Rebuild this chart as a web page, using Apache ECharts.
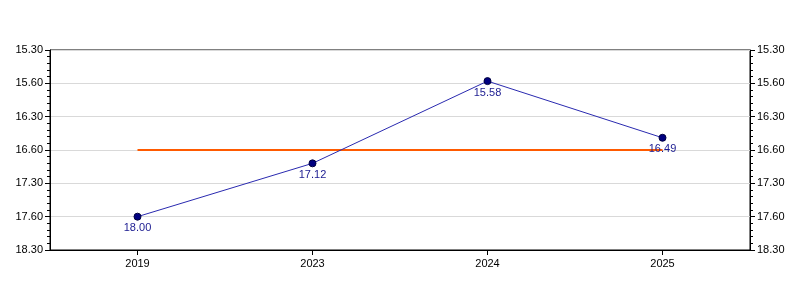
<!DOCTYPE html>
<html>
<head>
<meta charset="utf-8">
<script src="https://cdn.jsdelivr.net/npm/echarts@6/dist/echarts.min.js"></script>
<style>html,body{margin:0;padding:0;background:#fff}#c{width:800px;height:300px}</style>
</head>
<body>
<div id="c"></div>
<script>
// Categories (years)
var categories = ['2019', '2023', '2024', '2025'];
// Times as shown on labels (minutes.seconds)
var timeLabels = ['18.00', '17.12', '15.58', '16.49'];
// Average reference line (minutes, decimal)
var avgLine = [17.0, 17.0, 17.0, 17.0];
// Y-axis tick labels as printed on the chart (top to bottom)
var yTickLabels = ['15.30', '15.60', '16.30', '16.60', '17.30', '17.60', '18.30'];
var yMin = 15.5, yMax = 18.5, yStep = 0.5;

function mmssToMinutes(s) {
  var p = s.split('.');
  return parseInt(p[0], 10) + parseInt(p[1], 10) / 60;
}
var timeValues = timeLabels.map(mmssToMinutes);

function tickFmt(v) {
  var i = Math.round((v - yMin) / yStep);
  return yTickLabels[i] !== undefined ? yTickLabels[i] : '';
}

var font = 'Liberation Sans, Arial, sans-serif';
var narrow = '"Liberation Sans Narrow", "Arial Narrow", sans-serif';
function yAxis(pos) {
  return {
    type: 'value', position: pos, inverse: true,
    min: yMin, max: yMax, interval: yStep,
    axisLine: { show: true, lineStyle: { color: '#000', width: 1 } },
    axisTick: { show: true, length: 5, lineStyle: { color: '#000' } },
    minorTick: { show: true, splitNumber: 5, length: 3, lineStyle: { color: '#000' } },
    axisLabel: { formatter: tickFmt, color: '#000', fontSize: 11, fontFamily: font, margin: 7 },
    splitLine: { show: pos === 'left', lineStyle: { color: '#d9d9d9', width: 1 } }
  };
}

var chart = echarts.init(document.getElementById('c'), null, { renderer: 'canvas' });
chart.setOption({
  animation: false,
  backgroundColor: '#fff',
  grid: { left: 50, right: 50, top: 50, bottom: 50, show: true, borderColor: '#000', borderWidth: 1, backgroundColor: 'transparent' },
  xAxis: {
    type: 'category', data: categories, boundaryGap: true,
    axisLine: { show: true, lineStyle: { color: '#000' } },
    axisTick: { show: true, alignWithLabel: true, length: 5, lineStyle: { color: '#000' } },
    axisLabel: { color: '#000', fontSize: 11, fontFamily: font, margin: 8 },
    splitLine: { show: false }
  },
  yAxis: [yAxis('left'), yAxis('right')],
  series: [
    {
      type: 'line', data: avgLine, yAxisIndex: 0,
      showSymbol: false, symbol: 'none',
      lineStyle: { color: '#ff5a00', width: 2 },
      z: 2
    },
    {
      type: 'line', data: timeValues, yAxisIndex: 0,
      symbol: 'circle', symbolSize: 7,
      itemStyle: { color: '#000080', borderColor: '#000040', borderWidth: 1 },
      lineStyle: { color: '#2a2ab0', width: 1 },
      label: {
        show: true, position: 'bottom', distance: 2,
        color: '#1a1a90', fontSize: 11, fontFamily: narrow,
        formatter: function (p) { return timeLabels[p.dataIndex]; }
      },
      z: 3
    }
  ]
});
</script>
</body>
</html>
